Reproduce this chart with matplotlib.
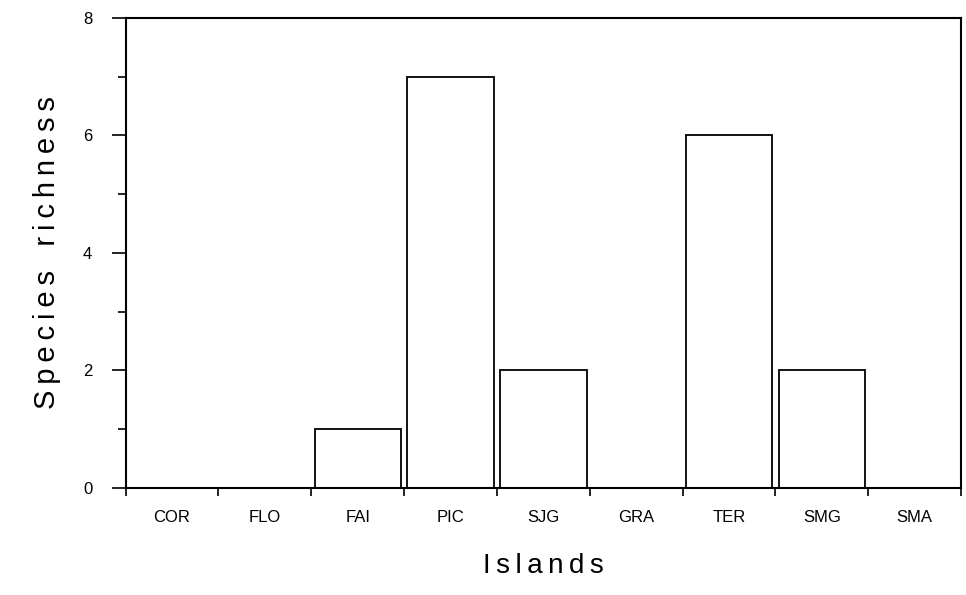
import matplotlib.pyplot as plt
from matplotlib.ticker import FixedLocator, NullFormatter

plt.rcParams['font.family'] = ['Liberation Sans', 'DejaVu Sans']

islands = ['COR', 'FLO', 'FAI', 'PIC', 'SJG', 'GRA', 'TER', 'SMG', 'SMA']
richness = [0, 0, 1, 7, 2, 0, 6, 2, 0]

fig = plt.figure(figsize=(9.66, 5.95), dpi=100)
ax = fig.add_axes([0.13, 0.18, 0.865, 0.79])

x = list(range(len(islands)))
ax.bar(x, richness, width=0.93, facecolor='white', edgecolor='black', linewidth=1.3)

ax.set_xlim(-0.5, len(islands) - 0.5)
ax.set_ylim(0, 8)

# category labels at centres, ticks on the boundaries
ax.set_xticks(x)
ax.set_xticklabels(islands, fontsize=12)
ax.tick_params(axis='x', which='major', length=0, pad=16)
ax.xaxis.set_minor_locator(FixedLocator([i + 0.5 for i in range(-1, len(islands))]))
ax.xaxis.set_minor_formatter(NullFormatter())
ax.tick_params(axis='x', which='minor', length=6, width=1.2, direction='out')

ax.set_yticks([0, 2, 4, 6, 8])
ax.set_yticks([1, 3, 5, 7], minor=True)
ax.tick_params(axis='y', which='major', length=10, width=1.2, labelsize=12, pad=14)
ax.tick_params(axis='y', which='minor', length=6, width=1.2)

for s in ax.spines.values():
    s.set_linewidth(1.5)

ts = '\u2009'
ax.set_xlabel(ts.join('Islands'), fontsize=20, labelpad=20)
ax.set_ylabel(ts.join('Species') + '   ' + ts.join('richness'), fontsize=21, labelpad=16)

fig.savefig('out.png', dpi=100)
